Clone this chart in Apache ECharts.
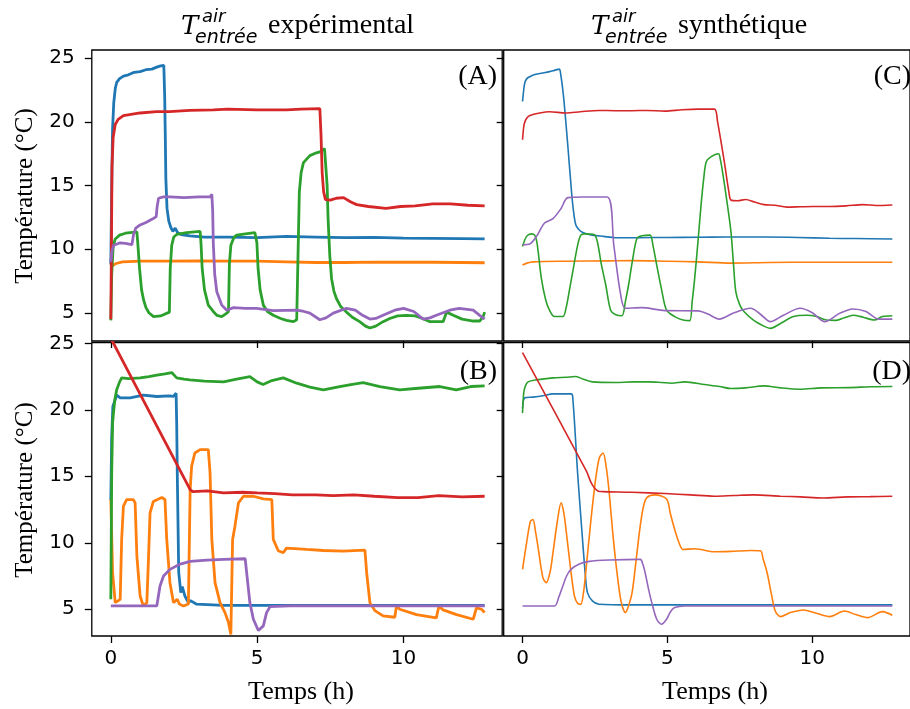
<!DOCTYPE html>
<html><head><meta charset="utf-8">
<script src="https://cdn.jsdelivr.net/npm/echarts@6.0.0/dist/echarts.min.js"></script>
<style>html,body{margin:0;padding:0;background:#fff}#c{width:910px;height:709px}</style>
</head><body><div id="c"></div>
<script>
// ---- tick labels ----
const xTicks = [0, 5, 10];
const yTicks = [5, 10, 15, 20, 25];
const colors = ['#1f77b4', '#ff7f0e', '#2ca02c', '#d62728', '#9467bd'];

// ---- Panel A (experimental, top) : [time h, temperature °C] ----
const A_blue = [[0,8.8],[0.03,15],[0.06,19.5],[0.1,21.5],[0.15,22.6],[0.2,23.1],[0.3,23.4],[0.43,23.6],[0.6,23.7],[0.8,23.9],[1.0,23.95],[1.2,24.1],[1.4,24.15],[1.57,24.3],[1.7,24.4],[1.81,24.45],[1.84,22],[1.86,19],[1.88,15.5],[1.92,13.2],[1.98,12.2],[2.05,11.7],[2.12,11.4],[2.2,11.65],[2.28,11.3],[2.4,11.15],[2.7,11.05],[3.2,10.95],[4,10.95],[5,10.9],[6,11.0],[7,10.95],[8,10.9],[9,10.92],[10,10.87],[11,10.85],[12,10.83],[12.77,10.8]];
const A_orange = [[0,8.6],[0.05,8.7],[0.15,8.85],[0.4,9.0],[1,9.05],[2,9.05],[3,9.07],[4,9.05],[5,9.05],[6,9.0],[7,8.95],[8,8.95],[9,8.98],[10,8.97],[11,8.97],[12,8.95],[12.77,8.93]];
const A_green = [[0,4.4],[0.03,8],[0.08,10.2],[0.15,10.8],[0.3,11.1],[0.5,11.25],[0.89,11.35],[0.92,10.5],[0.98,8.5],[1.05,6.8],[1.12,6.0],[1.2,5.4],[1.3,5.0],[1.46,4.7],[1.51,4.55],[1.7,4.75],[2.0,5.05],[2.03,8.5],[2.08,10.3],[2.15,10.95],[2.25,11.15],[2.59,11.3],[3.05,11.4],[3.08,10.5],[3.12,8.5],[3.2,6.8],[3.33,5.6],[3.5,5.1],[3.62,4.8],[3.79,4.7],[3.95,4.95],[4.02,5.1],[4.05,8.8],[4.1,10.3],[4.2,10.9],[4.3,11.1],[4.6,11.2],[4.92,11.3],[4.96,11.45],[4.99,10.5],[5.03,8.5],[5.1,6.8],[5.21,5.6],[5.35,5.1],[5.55,4.8],[5.8,4.55],[6.0,4.4],[6.24,4.3],[6.35,4.45],[6.39,9],[6.44,14.5],[6.5,16],[6.58,16.8],[6.8,17.35],[7.0,17.55],[7.14,17.65],[7.3,17.9],[7.36,17.9],[7.39,15],[7.42,12.5],[7.48,9.5],[7.54,7.7],[7.62,6.7],[7.71,6.1],[7.85,5.5],[8.05,5.05],[8.25,4.65],[8.5,4.3],[8.7,3.95],[8.85,3.8],[9.05,3.95],[9.3,4.3],[9.53,4.55],[9.8,4.75],[10.1,4.8],[10.4,4.75],[10.65,4.55],[10.9,4.3],[11.35,4.3],[11.4,4.6],[11.47,5.05],[11.7,4.8],[12.0,4.5],[12.38,4.35],[12.6,4.35],[12.72,4.7],[12.77,5.05]];
const A_red = [[0,4.5],[0.02,10],[0.04,16.5],[0.08,18.8],[0.15,19.8],[0.25,20.2],[0.43,20.5],[1.0,20.7],[1.57,20.8],[2.0,20.8],[2.7,20.9],[3.5,20.95],[4.0,21.0],[5.0,20.95],[6.0,20.95],[6.5,21.0],[7.14,21.05],[7.18,19],[7.22,16],[7.27,14.5],[7.33,13.9],[7.5,13.85],[7.7,14.0],[7.95,14.05],[8.2,13.7],[8.4,13.5],[8.8,13.35],[9.4,13.2],[9.9,13.35],[10.4,13.4],[11.0,13.55],[11.6,13.55],[12.2,13.45],[12.77,13.4]];
const A_purple = [[0,9.0],[0.04,9.9],[0.1,10.3],[0.32,10.5],[0.5,10.45],[0.72,10.35],[0.75,10.3],[0.78,11.2],[0.85,11.65],[1.0,11.9],[1.2,12.1],[1.45,12.4],[1.55,12.55],[1.58,13.3],[1.63,14.0],[1.8,14.1],[2.02,14.1],[2.5,14.05],[3.0,14.1],[3.39,14.1],[3.45,14.3],[3.48,13],[3.5,10.5],[3.55,8],[3.62,6.65],[3.79,5.6],[3.96,5.2],[4.19,5.4],[4.6,5.35],[4.98,5.35],[5.55,5.17],[6.35,5.2],[6.6,5.1],[6.8,4.97],[7.14,4.45],[7.35,4.6],[7.6,4.97],[8.05,5.35],[8.35,5.2],[8.6,4.8],[8.85,4.5],[9.05,4.55],[9.3,4.8],[9.7,5.2],[10.0,5.35],[10.35,5.1],[10.67,4.5],[10.9,4.6],[11.12,4.8],[11.58,5.2],[11.9,5.35],[12.38,5.2],[12.6,4.8],[12.77,4.5]];

// ---- Panel C (synthetic, top) ----
const C_blue = [[0,21.6],[0.04,22.5],[0.08,23.1],[0.15,23.4],[0.25,23.55],[0.4,23.7],[0.59,23.8],[0.93,23.95],[1.1,24.05],[1.27,24.15],[1.3,24.0],[1.41,22.1],[1.56,18.2],[1.7,14.25],[1.78,12.6],[1.84,11.9],[1.92,11.6],[2.01,11.4],[2.2,11.2],[2.41,11.1],[2.8,11.0],[3.2,10.9],[4.0,10.9],[5.0,10.92],[6.05,10.93],[7.0,10.95],[8.33,10.95],[9.5,10.92],[10.6,10.85],[11.5,10.83],[12.76,10.8]];
const C_orange = [[0,8.75],[0.15,8.9],[0.36,9.0],[1.5,9.05],[3.0,9.08],[3.78,9.1],[5.0,9.05],[6.05,9.0],[7.19,8.9],[8.5,8.95],[10.0,8.97],[11.5,8.97],[12.76,8.97]];
const C_green = [[0,10.2],[0.14,11.0],[0.31,11.2],[0.42,11.1],[0.5,10.5],[0.65,7.7],[0.8,6.0],[0.93,5.2],[1.1,4.7],[1.39,4.7],[1.5,5.35],[1.62,6.8],[1.73,8.2],[1.9,10.3],[2.01,11.1],[2.13,11.2],[2.47,11.15],[2.58,10.6],[2.72,8.8],[2.87,7.2],[3.04,5.2],[3.2,4.87],[3.43,4.77],[3.55,5.9],[3.66,7.2],[3.8,9.2],[3.95,10.85],[4.12,11.05],[4.4,11.1],[4.5,10.3],[4.63,8.75],[4.8,6.8],[4.97,5.2],[5.25,4.7],[5.54,4.43],[5.77,4.38],[5.85,5.8],[5.94,7.7],[6.05,10.5],[6.16,13.46],[6.25,15.5],[6.34,16.87],[6.51,17.27],[6.76,17.5],[6.83,17.0],[6.9,16.1],[7.05,13.8],[7.19,11.4],[7.28,8.8],[7.36,6.65],[7.5,5.6],[7.64,5.1],[7.98,4.4],[8.33,3.95],[8.55,3.77],[8.9,4.16],[9.35,4.7],[9.8,4.8],[10.15,4.7],[10.49,4.43],[10.83,4.4],[11.1,4.6],[11.4,4.8],[11.75,4.65],[12.14,4.43],[12.42,4.7],[12.76,4.77]];
const C_red = [[0,18.6],[0.04,19.6],[0.08,20.0],[0.15,20.3],[0.25,20.5],[0.59,20.7],[0.93,20.8],[1.5,20.7],[2.0,20.8],[2.64,20.9],[3.2,20.88],[3.78,20.88],[4.3,20.9],[4.91,20.85],[5.5,20.95],[6.05,21.0],[6.62,21.0],[6.73,20.0],[6.96,16.9],[7.12,14.5],[7.19,13.86],[7.42,13.8],[7.7,13.9],[8.0,13.7],[8.33,13.5],[8.7,13.45],[9.12,13.3],[9.6,13.33],[10.03,13.35],[10.6,13.35],[11.17,13.4],[11.74,13.5],[12.2,13.43],[12.76,13.47]];
const C_purple = [[0,10.35],[0.25,10.4],[0.48,11.0],[0.76,12.05],[1.05,12.4],[1.33,13.2],[1.56,14.05],[2.07,14.1],[2.92,14.1],[3.15,10.3],[3.38,6.5],[3.55,5.35],[4.12,5.4],[4.91,5.17],[6.05,5.15],[6.4,4.9],[6.79,4.5],[7.3,5.0],[7.87,5.35],[8.2,4.9],[8.55,4.3],[9.0,4.8],[9.58,5.35],[10.0,5.0],[10.43,4.3],[10.94,4.95],[11.4,5.3],[11.85,5.1],[12.3,4.5],[12.76,4.5]];

// ---- Panel B (experimental, bottom) ----
const B_blue = [[0,13.2],[0.03,18],[0.07,20.25],[0.2,21.1],[0.32,20.9],[0.66,20.9],[1.11,21.1],[1.57,21.0],[2.0,21.05],[2.14,21.0],[2.23,21.25],[2.25,19],[2.27,15.25],[2.32,7.75],[2.39,6.25],[2.44,6.7],[2.48,6.75],[2.53,6.0],[2.65,5.5],[2.72,5.65],[2.76,5.63],[2.93,5.38],[3.85,5.3],[6,5.3],[9,5.3],[12.77,5.3]];
const B_orange = [[0,13.25],[0.06,7.75],[0.15,5.5],[0.32,5.75],[0.37,10.25],[0.43,12.75],[0.54,13.25],[0.77,13.25],[0.83,13.0],[0.89,9.0],[1.0,6.0],[1.11,5.25],[1.23,5.5],[1.29,9.0],[1.34,12.25],[1.45,13.1],[1.74,13.4],[1.85,13.25],[1.91,10.25],[2.02,7.0],[2.14,5.5],[2.27,5.75],[2.34,5.4],[2.48,5.25],[2.65,5.4],[2.71,14.0],[2.76,15.75],[2.87,16.75],[3.05,17.0],[3.33,17.0],[3.39,15.25],[3.45,10.25],[3.56,7.0],[3.73,5.5],[3.9,4.75],[4.02,4.0],[4.1,3.1],[4.16,10.25],[4.24,11.25],[4.36,13.0],[4.53,13.5],[4.87,13.5],[5.21,13.3],[5.5,13.25],[5.55,10.25],[5.72,9.4],[5.89,9.25],[6.0,9.6],[6.69,9.5],[7.26,9.42],[7.94,9.37],[8.68,9.45],[8.74,7.75],[8.85,5.5],[9.02,4.9],[9.3,4.5],[9.7,4.4],[9.76,5.25],[9.87,5.0],[10.44,4.6],[11.12,4.35],[11.21,5.25],[11.35,4.95],[11.81,4.6],[12.38,4.25],[12.49,5.1],[12.66,5.0],[12.77,4.75]];
const B_green = [[0,5.75],[0.03,15.2],[0.06,19],[0.09,19.75],[0.14,20.8],[0.2,21.5],[0.3,22.1],[0.37,22.4],[0.6,22.35],[1.0,22.4],[1.3,22.5],[1.57,22.6],[1.85,22.7],[2.08,22.8],[2.25,22.4],[2.5,22.3],[2.7,22.25],[3.2,22.15],[3.85,22.1],[4.3,22.3],[4.75,22.5],[5.0,22.1],[5.2,21.9],[5.5,22.2],[5.89,22.4],[6.35,22.0],[6.8,21.7],[7.26,21.5],[7.82,21.75],[8.2,21.9],[8.62,22.05],[9.19,21.75],[9.87,21.5],[10.4,21.6],[11.24,21.75],[11.8,21.5],[12.3,21.75],[12.77,21.8]];
const B_red = [[0,25.38],[2.71,14.0],[2.8,13.85],[3.3,13.9],[3.85,13.75],[4.5,13.8],[5.0,13.75],[5.6,13.7],[6.2,13.6],[7.0,13.6],[7.6,13.55],[8.3,13.6],[9.0,13.5],[9.8,13.4],[10.5,13.4],[11.2,13.55],[12.0,13.45],[12.77,13.5]];
const B_purple = [[0,5.25],[1.57,5.25],[1.68,6.75],[1.8,7.5],[2.02,8.0],[2.37,8.4],[2.71,8.6],[3.28,8.7],[3.85,8.75],[4.59,8.8],[4.64,7.75],[4.75,5.5],[4.87,4.25],[5.04,3.4],[5.21,3.75],[5.32,4.75],[5.44,5.2],[6.12,5.25],[12.77,5.25]];

// ---- Panel D (synthetic, bottom) ----
const D_blue = [[0,20.1],[0.08,20.9],[0.36,20.95],[0.7,21.05],[1.05,21.2],[1.67,21.2],[1.73,21.0],[1.9,15.25],[2.07,10.25],[2.17,7.5],[2.24,6.25],[2.41,5.63],[2.64,5.38],[3.78,5.33],[12.76,5.33]];
const D_orange = [[0,8.0],[0.14,10.0],[0.27,11.6],[0.36,11.75],[0.45,10.8],[0.53,9.75],[0.7,7.4],[0.82,7.0],[0.95,7.8],[1.05,9.25],[1.2,11.6],[1.33,13.0],[1.42,12.3],[1.5,11.0],[1.65,8.2],[1.79,6.0],[1.9,5.45],[2.01,5.37],[2.1,6.2],[2.18,7.75],[2.35,11.5],[2.52,14.75],[2.65,16.4],[2.78,16.75],[2.88,15.8],[2.98,14.0],[3.12,10.6],[3.26,7.75],[3.4,5.6],[3.55,4.75],[3.65,5.2],[3.78,6.25],[3.92,8.7],[4.06,11.25],[4.18,12.8],[4.29,13.4],[4.57,13.6],[4.97,13.3],[5.1,12.2],[5.25,11.0],[5.4,10.0],[5.54,9.5],[5.94,9.55],[6.62,9.32],[7.19,9.35],[7.87,9.42],[8.21,9.4],[8.3,8.8],[8.44,7.75],[8.6,6.0],[8.72,4.87],[8.9,4.45],[9.24,4.75],[9.69,4.95],[10.14,4.7],[10.6,4.45],[11.11,4.87],[11.5,4.6],[11.91,4.37],[12.42,4.82],[12.76,4.55]];
const D_green = [[0,19.75],[0.04,21.25],[0.1,21.8],[0.19,22.1],[0.48,22.25],[1.05,22.4],[1.5,22.45],[1.84,22.5],[2.1,22.3],[2.41,22.1],[3.2,22.05],[3.8,22.1],[4.34,22.1],[4.8,22.05],[5.14,22.0],[5.6,22.1],[6.28,21.9],[6.8,21.75],[7.19,21.6],[7.7,21.65],[8.33,21.8],[8.9,21.65],[9.58,21.55],[10.3,21.65],[11.29,21.67],[12.0,21.73],[12.76,21.75]];
const D_red = [[0,24.3],[2.2,15.4],[2.35,14.6],[2.47,14.15],[2.6,13.9],[2.75,13.85],[3.78,13.8],[4.91,13.7],[5.8,13.6],[6.62,13.5],[7.3,13.55],[7.98,13.6],[8.9,13.5],[9.6,13.45],[10.37,13.37],[11.2,13.45],[12.0,13.47],[12.76,13.5]];
const D_purple = [[0,5.25],[1.1,5.25],[1.25,5.9],[1.39,6.75],[1.52,7.5],[1.67,8.0],[1.96,8.4],[2.3,8.6],[2.98,8.7],[4.06,8.75],[4.15,8.4],[4.23,7.75],[4.35,6.5],[4.46,5.5],[4.63,4.25],[4.8,3.87],[4.97,4.25],[5.1,4.8],[5.25,5.13],[5.6,5.25],[12.76,5.25]];

// panels: grid index order A, C, B, D
const panels = [
  {series: [A_blue, A_orange, A_green, A_red, A_purple], exp: true,  row: 0, col: 0},
  {series: [C_blue, C_orange, C_green, C_red, C_purple], exp: false, row: 0, col: 1},
  {series: [B_blue, B_orange, B_green, B_red, B_purple], exp: true,  row: 1, col: 0},
  {series: [D_blue, D_orange, D_green, D_red, D_purple], exp: false, row: 1, col: 1}
];

const colLeft = [91.8, 503.7];
const rowTop = [50, 342.5];
const rowH = [291, 293.5];
const rowY = [[2.78, 25.65], [2.99, 25.06]];
const W = 410.4;

const grid = [], xAxis = [], yAxis = [], series = [];
panels.forEach((p, i) => {
  grid.push({left: colLeft[p.col], top: rowTop[p.row], width: W, height: rowH[p.row],
    show: true, borderColor: '#000', borderWidth: 1.3});
  xAxis.push({type: 'value', gridIndex: i, min: -0.65, max: 13.37,
    axisLine: {show: false, onZero: false}, splitLine: {show: false},
    axisTick: {show: true, customValues: xTicks, length: 7, lineStyle: {color: '#000', width: 1.3}},
    axisLabel: {show: p.row === 1, customValues: xTicks, fontSize: 20, fontFamily: 'DejaVu Sans', color: '#000', margin: 13}});
  yAxis.push({type: 'value', gridIndex: i, min: rowY[p.row][0], max: rowY[p.row][1],
    axisLine: {show: false, onZero: false}, splitLine: {show: false},
    axisTick: {show: true, customValues: yTicks, length: 7, lineStyle: {color: '#000', width: 1.3}},
    axisLabel: {show: p.col === 0, customValues: yTicks, fontSize: 20, fontFamily: 'DejaVu Sans', color: '#000', margin: 17}});
  p.series.forEach((d, k) => {
    series.push({type: 'line', xAxisIndex: i, yAxisIndex: i, data: d, showSymbol: false, symbol: 'none',
      smooth: p.exp ? false : 0.3, clip: true,
      lineStyle: {color: colors[k], width: p.exp ? 2.8 : 1.6}, itemStyle: {color: colors[k]},
      emphasis: {disabled: true}, z: 2 + k});
  });
});

const serif = 'Liberation Serif';
function txt(x, y, s, font, align, vAlign, rot) {
  return {type: 'text', x: x, y: y, rotation: rot || 0, z: 100,
    style: {text: s, font: font, fill: '#000', textAlign: align, textVerticalAlign: vAlign}};
}
const graphic = [];
[0, 410].forEach((dx, j) => {
  graphic.push(txt(181 + dx, 27, 'T', 'italic 26px "DejaVu Serif"', 'left', 'middle'));
  graphic.push(txt(202 + dx, 17, 'air', 'italic 18px "DejaVu Sans"', 'left', 'middle'));
  graphic.push(txt(195 + dx, 38, 'entrée', 'italic 19px "DejaVu Sans"', 'left', 'middle'));
  graphic.push(txt(268 + dx, 26, j === 0 ? 'expérimental' : 'synthétique', '28px "' + serif + '"', 'left', 'middle'));
});
graphic.push(txt(25, 196, 'Température (°C)', '25px "' + serif + '"', 'center', 'middle', Math.PI / 2));
graphic.push(txt(25, 490, 'Température (°C)', '25px "' + serif + '"', 'center', 'middle', Math.PI / 2));
graphic.push(txt(301, 692, 'Temps (h)', '26px "' + serif + '"', 'center', 'middle'));
graphic.push(txt(715, 692, 'Temps (h)', '26px "' + serif + '"', 'center', 'middle'));
graphic.push(txt(497, 77, '(A)', '28px "' + serif + '"', 'right', 'middle'));
graphic.push(txt(911, 77, '(C)', '28px "' + serif + '"', 'right', 'middle'));
graphic.push(txt(497, 372, '(B)', '28px "' + serif + '"', 'right', 'middle'));
graphic.push(txt(911, 372, '(D)', '28px "' + serif + '"', 'right', 'middle'));

const chart = echarts.init(document.getElementById('c'), null, {renderer: 'canvas'});
chart.setOption({animation: false, backgroundColor: '#fff', grid, xAxis, yAxis, series, graphic});
</script></body></html>
